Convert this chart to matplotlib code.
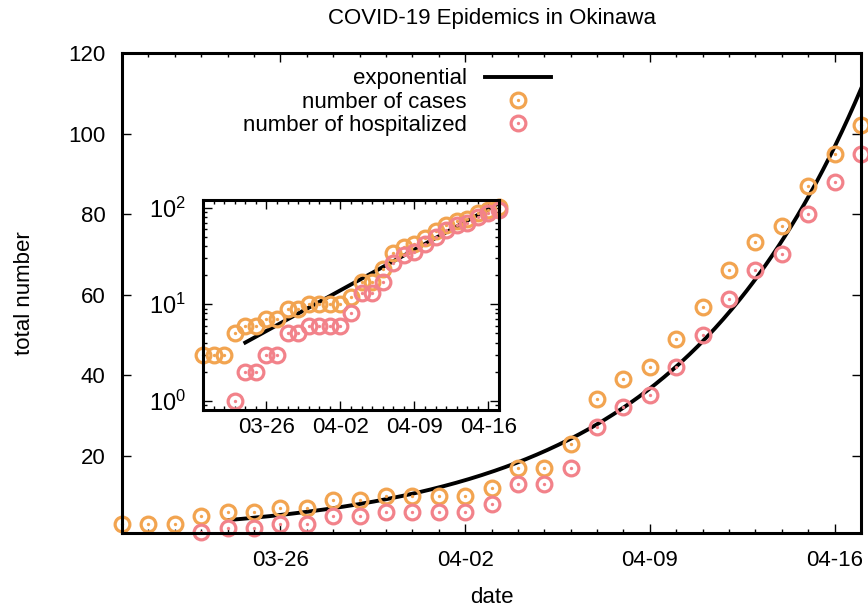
import matplotlib
matplotlib.use('Agg')
import matplotlib.pyplot as plt
import matplotlib.dates as mdates
from matplotlib.legend_handler import HandlerTuple
import numpy as np
import pandas as pd

# ---------------- data ----------------
dates = pd.date_range('2020-03-20', '2020-04-17', freq='D')
cases = [3, 3, 3, 5, 6, 6, 7, 7, 9, 9, 10, 10, 10, 10, 12, 17, 17, 23, 34, 39,
         42, 49, 57, 66, 73, 77, 87, 95, 102]
hospitalized = [np.nan, np.nan, np.nan, 1, 2, 2, 3, 3, 5, 5, 6, 6, 6, 6, 8, 13, 13,
                17, 27, 32, 35, 42, 50, 59, 66, 70, 80, 88, 95]
fit_start = '2020-03-24'
fit_end = '2020-04-17'
fit_amp = 4.0       # value at fit_start
fit_rate = 0.1385   # per day
tick_dates = ['2020-03-26', '2020-04-02', '2020-04-09', '2020-04-16']
y_range = (0.8, 120)
main_yticks = [20, 40, 60, 80, 100, 120]

# ---------------- style ----------------
plt.rcParams['font.family'] = ['Liberation Sans', 'DejaVu Sans']
plt.rcParams['font.size'] = 16
c_cases = '#F2A450'
c_hosp = '#F2828A'

x = mdates.date2num(dates)
x0 = mdates.date2num(pd.Timestamp(fit_start))
x1 = mdates.date2num(pd.Timestamp(fit_end))
xf = np.linspace(x0, x1, 300)
yf = fit_amp * np.exp(fit_rate * (xf - x0))
xt = mdates.date2num(pd.to_datetime(tick_dates))

fig = plt.figure(figsize=(8.68, 6.11), dpi=100)
ax = fig.add_axes([122/868, 78/611, 739/868, 480/611])

def draw(a):
    ln, = a.plot(xf, yf, color='black', lw=2.8, zorder=1.5, label='exponential')
    h = []
    for vals, c in ((cases, c_cases), (hospitalized, c_hosp)):
        ring, = a.plot(x, vals, ls='none', marker='o', ms=10.6, mfc='none',
                       mec=c, mew=2.3, clip_on=False, zorder=2)
        dot, = a.plot(x, vals, ls='none', marker='o', ms=2.4, mfc=c,
                      mew=0, clip_on=False, zorder=2)
        h.append((ring, dot))
    return ln, h

def style(a):
    for s in a.spines.values():
        s.set_linewidth(2.2)
    a.set_xlim(x[0], x[-1])
    a.set_xticks(xt)
    a.xaxis.set_major_formatter(mdates.DateFormatter('%m-%d'))
    a.xaxis.set_minor_locator(mdates.DayLocator())
    a.tick_params(which='both', direction='in', top=True, right=True, width=1, labelsize=16)
    a.tick_params(which='major', length=6.5)
    a.tick_params(which='minor', length=3.2)

ln, h = draw(ax)
style(ax)
ax.set_ylim(*y_range)
ax.set_yticks(main_yticks)
ax.tick_params(axis='y', which='minor', left=False, right=False)
ax.tick_params(axis='x', which='major', pad=12)
ax.tick_params(axis='y', which='major', pad=12)
ax.set_title('COVID-19 Epidemics in Okinawa', fontsize=16, pad=21)
ax.set_xlabel('date', fontsize=16, labelpad=12)
ax.set_ylabel('total number', fontsize=16, labelpad=24)

leg = ax.legend([ln, h[0], h[1]], ['exponential', 'number of cases', 'number of hospitalized'],
                handler_map={tuple: HandlerTuple(ndivide=1, pad=0)},
                loc='upper right', bbox_to_anchor=(0.596, 0.991), frameon=False,
                markerfirst=False, handlelength=3.0, handletextpad=0.8,
                labelspacing=0.1, borderpad=0, fontsize=16)

# ---------------- inset ----------------
ins = fig.add_axes([203/868, (611-410)/611, 296/868, 210/611])
ins.set_facecolor('white')
draw(ins)
style(ins)
ins.set_yscale('log')
ins.set_ylim(*y_range)
ins.set_xlim(x[0], x[-1])
ins.tick_params(axis='x', which='major', pad=5)
ins.tick_params(axis='y', which='major', pad=12, labelsize=17)

fig.savefig('out.png', dpi=100)
